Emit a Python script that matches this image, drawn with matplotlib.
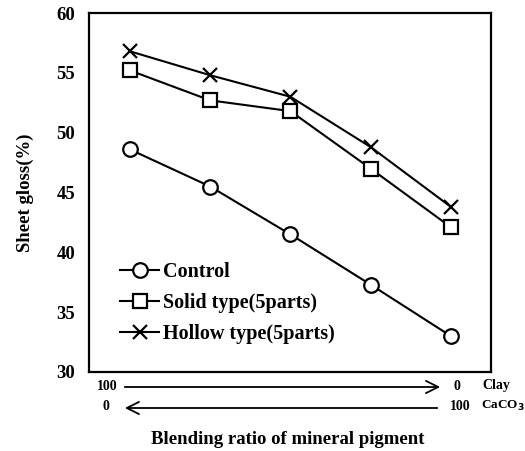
import matplotlib
matplotlib.use("Agg")
import matplotlib.pyplot as plt

positions = [0, 1, 2, 3, 4]
control = [48.6, 45.5, 41.5, 37.3, 33.0]
solid = [55.2, 52.7, 51.8, 47.0, 42.1]
hollow = [56.8, 54.8, 53.0, 48.8, 43.8]
series_labels = ["Control", "Solid type(5parts)", "Hollow type(5parts)"]
yticks = [30, 35, 40, 45, 50, 55, 60]

plt.rcParams['font.family'] = ['Liberation Serif', 'DejaVu Serif']
plt.rcParams['font.weight'] = 'bold'

fig = plt.figure(figsize=(5.25, 4.51), dpi=100)
ax = fig.add_axes([89/525, 1-372/451, (491-89)/525, (372-13)/451])

kw = dict(color='black', lw=1.5, markerfacecolor='white', markeredgecolor='black', markeredgewidth=1.6)
ax.plot(positions, control, marker='o', markersize=10.5, label=series_labels[0], **kw)
ax.plot(positions, solid, marker='s', markersize=10.5, label=series_labels[1], **kw)
ax.plot(positions, hollow, marker='x', markersize=10.5, label=series_labels[2], **kw)

ax.set_xlim(-0.51, 4.5)
ax.set_ylim(30, 60)
ax.set_yticks(yticks)
ax.set_yticklabels([str(t) for t in yticks], fontsize=13.5, fontweight='bold')
ax.set_xticks([])
ax.tick_params(axis='y', length=0, pad=10)
for s in ax.spines.values():
    s.set_linewidth(1.6)

ax.set_ylabel("Sheet gloss(%)", fontsize=13.5, fontweight='bold', labelpad=16)

leg = ax.legend(loc='lower left', bbox_to_anchor=(0.058, 0.055), frameon=False,
                prop={'size': 14.5, 'weight': 'bold'}, handlelength=1.9,
                handletextpad=0.2, labelspacing=0.55, borderaxespad=0)

def fx(px):
    return px / 525
def fy(py):
    return 1 - py / 451

fs = 10
fig.text(fx(107), fy(386), "100", ha='center', va='center', fontsize=fs, fontweight='bold')
fig.text(fx(457), fy(386), "0", ha='center', va='center', fontsize=fs, fontweight='bold')
fig.text(fx(482), fy(385), "Clay", ha='left', va='center', fontsize=fs, fontweight='bold')
fig.text(fx(106), fy(407), "0", ha='center', va='center', fontsize=fs, fontweight='bold')
fig.text(fx(460), fy(407), "100", ha='center', va='center', fontsize=fs, fontweight='bold')
fig.text(fx(481), fy(406), "CaCO$_3$", ha='left', va='center', fontsize=9.5, fontweight='bold')

ap = dict(arrowstyle='->', lw=1.3, color='black', mutation_scale=22)
fig.add_artist(matplotlib.patches.FancyArrowPatch((fx(122), fy(387)), (fx(443), fy(387)),
                                                  transform=fig.transFigure, **ap))
fig.add_artist(matplotlib.patches.FancyArrowPatch((fx(440), fy(408)), (fx(122), fy(408)),
                                                  transform=fig.transFigure, **ap))

fig.text(fx(288), fy(440), "Blending ratio of mineral pigment", ha='center', va='center',
         fontsize=13.5, fontweight='bold')

fig.savefig("out.png", dpi=100)
